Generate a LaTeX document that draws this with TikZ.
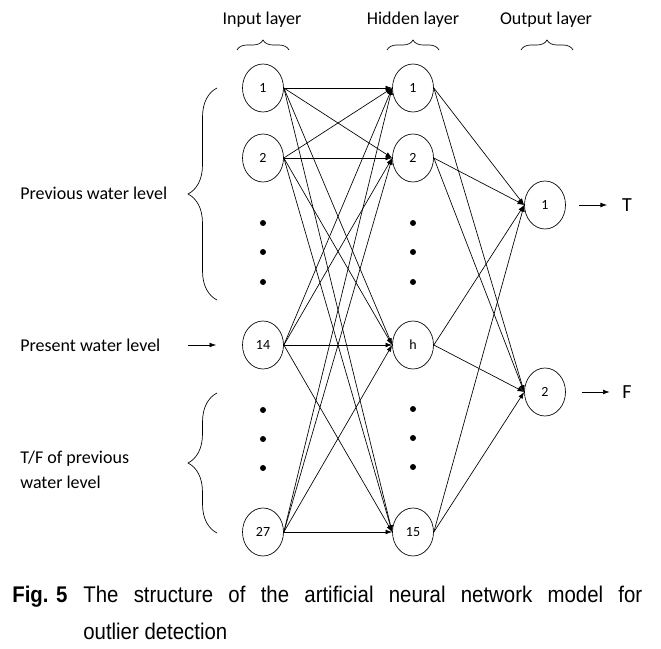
\documentclass[tikz,border=0pt]{standalone}
\usepackage{fontspec}
\setmainfont{Carlito}
\newfontfamily\capfont[FakeStretch=0.9]{Liberation Sans}
\usetikzlibrary{shapes.geometric,decorations.pathreplacing,arrows.meta}

\begin{document}
\begin{tikzpicture}[x=0.75pt, y=-0.75pt, node distance=112.5pt, line width=0.5pt,
    main/.style = {draw, ellipse, minimum width=30.75pt, minimum height=36pt, inner sep=0pt, font=\fontsize{10.5}{12}\selectfont},
    dot/.style = {circle, fill, inner sep=0pt, minimum size=4.5pt},
    lbl/.style = {inner sep=0pt, font=\fontsize{13.5}{19}\selectfont},
    arr/.style = {-{Latex[length=5pt,width=3.6pt]}},
    brc/.style = {decorate, decoration={brace, amplitude=#1}}]
  \useasboundingbox (0,0) rectangle (661,649);

  % input layer
  \node[main] (i1) at (263,88) {1};
  \node[main] (i2) [node distance=52.5pt, below of=i1] {2};
  \node[main] (i14) [node distance=140.25pt, below of=i2] {14};
  \node[main] (i27) [node distance=140.25pt, below of=i14] {27};

  % hidden layer
  \node[main] (h1) [right of=i1] {1};
  \node[main] (h2) [right of=i2] {2};
  \node[main] (hh) [right of=i14] {h};
  \node[main] (h15) [right of=i27] {15};

  % output layer
  \node[main] (o1) at (545,205) {1};
  \node[main] (o2) [node distance=140.25pt, below of=o1] {2};

  % dots
  \node[dot] (di1) at (263,223) {};
  \node[dot] (di2) at (263,252) {};
  \node[dot] (di3) at (263,282) {};
  \node[dot] (di4) at (263,410) {};
  \node[dot] (di5) at (263,439) {};
  \node[dot] (di6) at (263,468) {};
  \node[dot] (dh1) at (413,223) {};
  \node[dot] (dh2) at (413,252) {};
  \node[dot] (dh3) at (413,282) {};
  \node[dot] (dh4) at (413,409) {};
  \node[dot] (dh5) at (413,438) {};
  \node[dot] (dh6) at (413,467) {};

  % titles and braces
  \node[lbl] (tin) at (262,20) {Input layer};
  \node[lbl] (thid) at (413,20) {Hidden layer};
  \node[lbl] (tout) at (546,20) {Output layer};
  \draw[brc=7.5pt] (237,50) -- (289,50);
  \draw[brc=7.5pt] (387,50) -- (439,50);
  \draw[brc=7.5pt] (521,50) -- (573,50);

  % left labels
  \node[lbl, anchor=west] (lprev) at (20,193) {Previous water level};
  \node[lbl, anchor=west] (lpres) at (20,345) {Present water level};
  \node[lbl, anchor=west, align=left] (ltf) at (20,470) {T/F of previous\\water level};
  \draw[brc=21.75pt] (217,300) -- (217,88);
  \draw[brc=21.75pt] (217,533) -- (217,393);
  \coordinate (a14) at (188,345);
  \draw[arr, shorten >=19.5pt] (a14) -- (i14);

  % input -> hidden
  \path[arr]
  (i1.east) edge (h1.west)
  (i1.east) edge (h2.west)
  (i1.east) edge (hh.west)
  (i1.east) edge (h15.west)
  (i2.east) edge (h1.west)
  (i2.east) edge (h2.west)
  (i2.east) edge (hh.west)
  (i2.east) edge (h15.west)
  (i14.east) edge (h1.west)
  (i14.east) edge (h2.west)
  (i14.east) edge (hh.west)
  (i14.east) edge (h15.west)
  (i27.east) edge (h1.west)
  (i27.east) edge (h2.west)
  (i27.east) edge (hh.west)
  (i27.east) edge (h15.west);

  % hidden -> output
  \path[arr]
  (h1.east) edge (o1.west)
  (h1.east) edge (o2.west)
  (h2.east) edge (o1.west)
  (h2.east) edge (o2.west)
  (hh.east) edge (o1.west)
  (hh.east) edge (o2.west)
  (h15.east) edge (o1.west)
  (h15.east) edge (o2.west);

  % outputs
  \node[inner sep=0pt, font=\fontsize{15}{18}\selectfont] (T) at (627,205) {T};
  \node[inner sep=0pt, font=\fontsize{15}{18}\selectfont] (F) at (627,392) {F};
  \draw[arr, shorten <=10pt, shorten >=11pt] (o1) -- (T);
  \draw[arr, shorten <=12.4pt, shorten >=9.3pt] (o2) -- (F);

  % caption
  \node[anchor=north west, inner sep=0pt, text width=472.5pt, align=justify,
        font=\capfont\fontsize{17}{27.5}\selectfont] (cap) at (12,586)
    {\hangindent=53.25pt\hangafter=1\makebox[53.25pt][l]{\bfseries Fig. 5}The structure of the artificial neural network model for\linebreak outlier detection\par};
\end{tikzpicture}
\end{document}
